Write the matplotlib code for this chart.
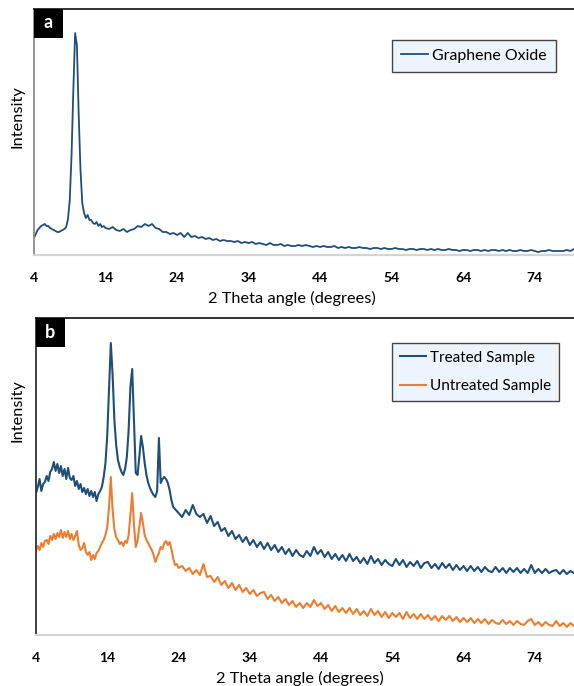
import numpy as np
import matplotlib
matplotlib.use("Agg")
import matplotlib.pyplot as plt
from matplotlib.patches import Rectangle

plt.rcParams['font.family'] = ['Lato', 'DejaVu Sans']

# ---------------- data ----------------
# Panel a: Graphene Oxide (relative intensity)
go_lo = [17, 21, 25, 27, 29, 30, 31, 29, 29, 27, 26, 25, 24, 23, 23, 24, 25, 26, 28, 36,
         55, 100, 165, 222, 210, 140, 85, 52, 42, 37, 40, 35, 35, 32, 31, 33, 29, 31, 28, 29, 27]
go_hi = [26, 28, 25, 24, 26, 23, 25, 26, 29, 28, 31, 29, 31, 27, 26, 23, 23, 21, 22, 20,
         22, 18, 22, 18, 19, 17, 18, 16, 17, 15, 16, 14, 15, 14, 14, 13, 14, 12, 13, 12,
         13, 11, 12, 11, 10, 12, 10, 10, 11, 9, 10, 9, 9, 10, 9, 10, 9, 8, 9, 8,
         9, 8, 8, 9, 7, 8, 7, 8, 7, 7, 8, 7, 7, 6, 7, 7, 6, 7, 6, 6,
         7, 6, 6, 5, 6, 6, 5, 6, 6, 5, 6, 5, 6, 5, 5, 6, 5, 5, 4, 5,
         5, 4, 5, 5, 4, 5, 4, 5, 5, 4, 5, 4, 5, 4, 4, 5, 4, 4, 5, 4,
         3, 4, 4, 5, 4, 4, 4, 4, 5, 4, 6]

# Panel b: Treated sample
tr_lo = [142, 148, 156, 144, 151, 153, 159, 154, 163, 166, 173, 164, 171, 162, 169, 159,
         166, 156, 167, 157, 155, 159, 149, 154, 146, 151, 143, 147, 141, 146, 139, 144,
         138, 143, 134, 141, 144, 148, 158, 172, 200, 245, 292, 260, 215, 190, 175, 168,
         163, 160, 166, 178, 205, 248, 266, 215, 162, 160, 178, 199, 188, 172, 160, 152,
         147, 143, 140, 138, 144, 197, 152, 156, 158, 156, 152, 145, 135, 128, 126, 124, 122]
tr_hi = [118, 125, 120, 130, 121, 118, 121, 112, 119, 109, 113, 104, 107, 99, 104, 96,
         100, 93, 98, 90, 95, 88, 93, 86, 92, 85, 90, 83, 88, 81, 86, 79, 85, 80, 78, 84,
         79, 88, 81, 85, 78, 83, 76, 81, 75, 80, 74, 81, 74, 78, 72, 77, 71, 79, 72, 76,
         70, 75, 71, 69, 76, 70, 75, 68, 73, 69, 74, 67, 72, 73, 67, 71, 66, 72, 67, 71,
         65, 70, 65, 69, 64, 69, 64, 68, 63, 68, 64, 63, 68, 63, 67, 62, 67, 63, 67, 62,
         66, 62, 70, 62, 66, 62, 66, 62, 64, 65, 61, 65, 61, 64, 62]

# Panel b: Untreated sample
un_lo = [85, 89, 85, 92, 88, 94, 95, 91, 99, 95, 101, 96, 102, 98, 105, 97, 103, 98, 104, 96,
         101, 95, 99, 104, 90, 85, 87, 92, 83, 80, 83, 75, 80, 76, 82, 84, 88, 92, 95, 100,
         108, 128, 158, 125, 106, 98, 95, 91, 93, 89, 94, 92, 100, 120, 142, 110, 88, 94, 108, 122,
         112, 100, 95, 92, 88, 85, 80, 73, 78, 82, 88, 86, 92, 94, 90, 93, 86, 77, 70, 71, 67]
un_hi = [69, 64, 67, 61, 65, 60, 71, 58, 59, 53, 58, 50, 54, 47, 52, 45, 50, 43, 47, 41,
         45, 39, 42, 43, 36, 40, 34, 38, 32, 36, 30, 34, 28, 32, 27, 32, 28, 35, 29, 32,
         26, 30, 24, 29, 23, 27, 22, 27, 21, 26, 20, 24, 19, 26, 20, 24, 18, 23, 17, 22,
         18, 22, 16, 23, 17, 21, 16, 21, 16, 20, 15, 19, 14, 19, 15, 19, 14, 18, 13, 17,
         13, 17, 12, 16, 12, 16, 11, 15, 12, 11, 15, 11, 14, 10, 14, 11, 10, 14, 16, 10,
         13, 9, 13, 10, 9, 14, 9, 12, 8, 12, 9]

xticks = [4, 14, 24, 34, 44, 54, 64, 74]
xlabel = "2 Theta angle (degrees)"
ylabel = "Intensity"
labels_a = ["Graphene Oxide"]
labels_b = ["Treated Sample", "Untreated Sample"]

BLUE = '#1f4e79'
ORANGE = '#ed7d31'


def angles(lo, hi, lo_end):
    a1 = np.linspace(4.0, lo_end, len(lo))
    a2 = np.linspace(lo_end + 0.5, 79.5, len(hi))
    return np.concatenate([a1, a2]), np.concatenate([lo, hi])


W, H = 574, 686
fig = plt.figure(figsize=(W / 100, H / 100), dpi=100)


def fx(px):
    return px / W


def fy(py):
    return 1 - py / H


def style(ax, left_color):
    ax.set_xlim(4, 79.5)
    ax.set_xticks(xticks)
    ax.set_xticklabels([str(t) for t in xticks], fontweight='bold', fontsize=10)
    ax.tick_params(axis='x', length=0, pad=12)
    ax.set_yticks([])
    ax.spines['right'].set_visible(False)
    ax.spines['top'].set_color('#222222')
    ax.spines['top'].set_linewidth(1.3)
    ax.spines['left'].set_color(left_color)
    ax.spines['left'].set_linewidth(1.3)
    ax.spines['bottom'].set_color('#d4d4d4')
    ax.spines['bottom'].set_linewidth(1.6)


def style_legend(leg):
    fr = leg.get_frame()
    fr.set_facecolor('#eef4fb')
    fr.set_edgecolor('#444444')
    fr.set_alpha(1)
    fr.set_linewidth(1.0)


# Panel a
axa = fig.add_axes([fx(34), fy(255), fx(574 - 34), (255 - 9) / H])
xa, ya = angles(go_lo, go_hi, 14.0)
axa.plot(xa, ya, color=BLUE, lw=1.3, label=labels_a[0])
axa.set_ylim(0, 246)
style(axa, '#8a8a8a')
fig.text(fx(292), fy(298), xlabel, ha='center', va='center', fontsize=11.8)
fig.text(fx(18), fy(117), ylabel, ha='center', va='center', rotation=90, fontsize=11.8)
leg = axa.legend(loc='upper left', bbox_to_anchor=((392 - 34) / 540, 1 - (40 - 9) / 246),
                 fancybox=False, fontsize=11.4, handlelength=1.7, handletextpad=0.3,
                 borderpad=0.55, borderaxespad=0)
style_legend(leg)

# Panel b
axb = fig.add_axes([fx(36), fy(635), fx(574 - 36), (635 - 318) / H])
xb, yt = angles(tr_lo, tr_hi, 24.0)
xb2, yu = angles(un_lo, un_hi, 24.0)
axb.plot(xb, yt, color=BLUE, lw=1.5, label=labels_b[0])
axb.plot(xb2, yu, color=ORANGE, lw=1.5, label=labels_b[1])
axb.set_ylim(0, 317)
style(axb, '#333333')
fig.text(fx(300), fy(678), xlabel, ha='center', va='center', fontsize=11.8)
fig.text(fx(18), fy(411), ylabel, ha='center', va='center', rotation=90, fontsize=11.8)
leg = axb.legend(loc='upper left', bbox_to_anchor=((392 - 36) / 538, 1 - (343 - 318) / 317),
                 fancybox=False, fontsize=11.0, handlelength=1.7, handletextpad=0.3,
                 borderpad=0.5, borderaxespad=0, labelspacing=0.95)
style_legend(leg)

# Panel letters
for (x0, y0, letter) in [(34, 9, 'a'), (36, 318, 'b')]:
    fig.patches.append(Rectangle((fx(x0), fy(y0 + 29)), 29 / W, 29 / H,
                                 transform=fig.transFigure, facecolor='black',
                                 edgecolor='none', zorder=5))
    fig.text(fx(x0 + 14.5), fy(y0 + 14), letter, color='white', fontweight='bold',
             fontsize=13, ha='center', va='center', zorder=6)

fig.savefig('out.png', dpi=100)
